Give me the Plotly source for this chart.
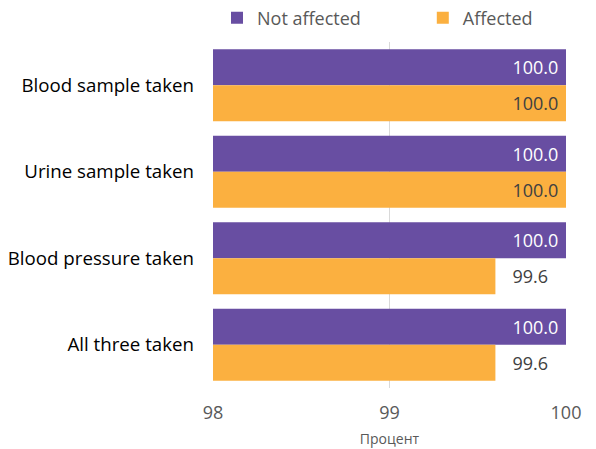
import plotly.graph_objects as go

categories = ["Blood sample taken", "Urine sample taken", "Blood pressure taken", "All three taken"]
not_affected = [100.0, 100.0, 100.0, 100.0]
affected = [100.0, 100.0, 99.6, 99.6]
x_ticks = [98, 99, 100]

PURPLE = "#684EA2"
ORANGE = "#FBB040"
FONT = "Open Sans, sans-serif"
NB = "\u00a0"

def positions(vals):
    return ["inside" if v >= 99.9 else "outside" for v in vals]

def labels(vals):
    return [f"{v:.1f}{NB}" if v >= 99.9 else f"{NB*3}{v:.1f}" for v in vals]

fig = go.Figure()
fig.add_trace(go.Bar(
    y=categories, x=not_affected, orientation="h", name="Not affected",
    marker=dict(color=PURPLE, line=dict(width=0)),
    text=labels(not_affected), textposition=positions(not_affected),
    insidetextanchor="end", textangle=0,
    insidetextfont=dict(color="white", size=18, family=FONT),
    outsidetextfont=dict(color="#404040", size=18, family=FONT),
    cliponaxis=False, legend="legend2",
))
fig.add_trace(go.Bar(
    y=categories, x=affected, orientation="h", name="Affected",
    marker=dict(color=ORANGE, line=dict(width=0)),
    text=labels(affected), textposition=positions(affected),
    insidetextanchor="end", textangle=0,
    insidetextfont=dict(color="#404040", size=18, family=FONT),
    outsidetextfont=dict(color="#404040", size=18, family=FONT),
    cliponaxis=False, legend="legend3",
))

legend_common = dict(orientation="h", xanchor="left", y=1.069, yanchor="middle",
                     font=dict(size=18, color="#595959"), itemwidth=30,
                     bgcolor="rgba(0,0,0,0)", bordercolor="rgba(0,0,0,0)",
                     borderwidth=4, maxheight=1, valign="middle")

fig.update_layout(
    width=596, height=449,
    margin=dict(l=205, r=38, t=34, b=69, autoexpand=False),
    barmode="group", bargap=0.168, bargroupgap=0,
    plot_bgcolor="white", paper_bgcolor="white",
    font=dict(family=FONT, size=18, color="#595959"),
    legend2=dict(x=0.0, **legend_common),
    legend3=dict(x=0.583, **legend_common),
    xaxis=dict(range=[98, 100], tickvals=x_ticks, ticktext=[str(t) for t in x_ticks],
               showgrid=True, gridcolor="#D9D9D9", gridwidth=1, zeroline=False,
               showline=False, ticks="outside", ticklen=8, tickcolor="rgba(0,0,0,0)",
               tickfont=dict(size=18, color="#595959"), automargin=False,
               title=dict(text="Процент", font=dict(size=14, color="#595959"), standoff=11)),
    yaxis=dict(autorange="reversed", showgrid=False, showline=False, ticks="",
               tickfont=dict(size=18.7, color="#000000"), ticklabelstandoff=18,
               automargin=False),
)

fig.write_html("out.html")
